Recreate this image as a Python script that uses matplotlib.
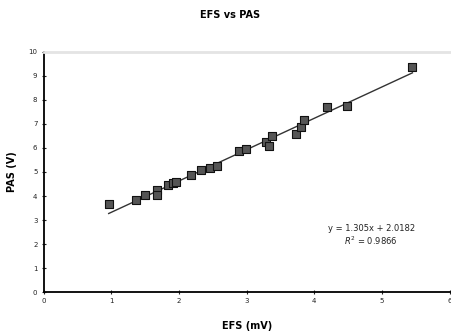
import numpy as np
import matplotlib.pyplot as plt

# EFS (mV) vs PAS (V) readings
efs = [0.96, 1.36, 1.50, 1.67, 1.68, 1.83, 1.91, 1.95, 2.17, 2.32, 2.46, 2.56,
       2.88, 2.99, 3.29, 3.33, 3.37, 3.73, 3.81, 3.84, 4.19, 4.49, 5.45]
pas = [3.65, 3.82, 4.03, 4.26, 4.03, 4.47, 4.54, 4.57, 4.86, 5.08, 5.18, 5.25,
       5.89, 5.97, 6.25, 6.10, 6.50, 6.60, 6.88, 7.15, 7.71, 7.74, 9.38]

slope = 1.305
intercept = 2.0182
r2 = 0.9866

fig = plt.figure(figsize=(4.51, 3.33), dpi=100)
ax = fig.add_axes([0.097, 0.123, 0.9, 0.721])

x_fit = np.array([min(efs), max(efs)])
ax.plot(x_fit, slope * x_fit + intercept, color="#333333", lw=1.0)
ax.scatter(efs, pas, marker="s", s=28, facecolor="#555555", edgecolor="#111111",
           linewidth=0.8, zorder=3)

ax.set_xlim(0, 6)
ax.set_ylim(0, 10)
ax.set_xticks(range(0, 7))
ax.set_yticks(range(0, 11))
ax.tick_params(labelsize=5, direction="inout", length=3, width=0.8,
               colors="#222222", pad=3)

ax.spines["right"].set_visible(False)
ax.spines["top"].set_color("#e4e4e4")
ax.spines["top"].set_linewidth(2)
ax.spines["left"].set_linewidth(1.3)
ax.spines["bottom"].set_linewidth(1.3)

ax.text(4.84, 2.36, "y = 1.305x + 2.0182\n$R^2$ = 0.9866", fontsize=6,
        ha="center", va="center", color="#222222", linespacing=1.2)

fig.text(0.51, 0.955, "EFS vs PAS", fontsize=7, fontweight="bold",
         ha="center", va="center")
ax.set_xlabel("EFS (mV)", fontsize=7, fontweight="bold", labelpad=12)
ax.set_ylabel("PAS (V)", fontsize=7, fontweight="bold", labelpad=8)

plt.savefig("out.png", dpi=100)
